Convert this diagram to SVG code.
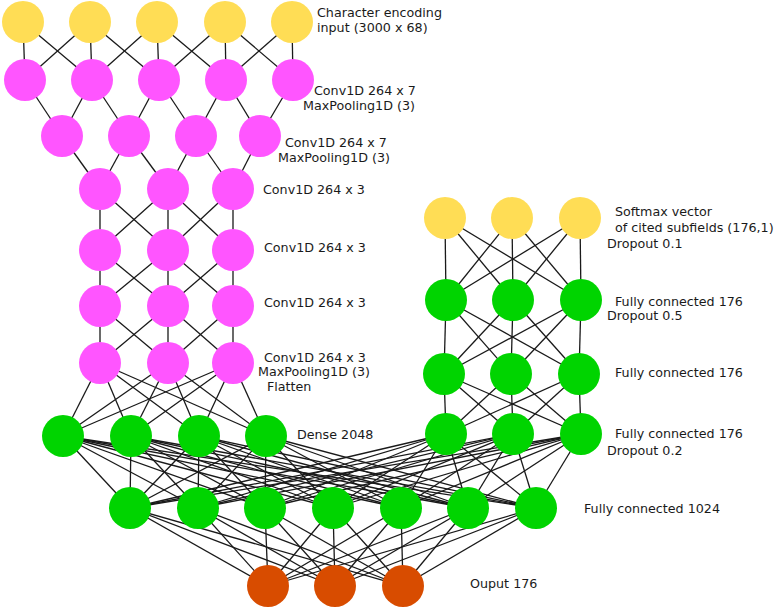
<svg xmlns="http://www.w3.org/2000/svg" width="777" height="609" viewBox="0 0 777 609">
<style>
.c line{stroke:#1a1a1a;stroke-width:1.3}
.y{fill:#ffdd55}
.p{fill:#ff55ff}
.g{fill:#00d400}
.o{fill:#d84c00}
text{font-family:"DejaVu Sans","Verdana",sans-serif;font-size:12.7px;fill:#1a1a1a}
</style>
<rect width="777" height="609" fill="#ffffff"/>
<g id="connectors" class="c">
<line x1="23" y1="22" x2="25" y2="80"/><line x1="23" y1="22" x2="92" y2="80"/>
<line x1="90" y1="22" x2="25" y2="80"/><line x1="90" y1="22" x2="92" y2="80"/><line x1="90" y1="22" x2="159" y2="80"/>
<line x1="157" y1="22" x2="92" y2="80"/><line x1="157" y1="22" x2="159" y2="80"/><line x1="157" y1="22" x2="226" y2="80"/>
<line x1="225" y1="22" x2="159" y2="80"/><line x1="225" y1="22" x2="226" y2="80"/><line x1="225" y1="22" x2="293" y2="80"/>
<line x1="292" y1="22" x2="226" y2="80"/><line x1="292" y1="22" x2="293" y2="80"/>
<line x1="25" y1="80" x2="62" y2="136"/>
<line x1="92" y1="80" x2="62" y2="136"/><line x1="92" y1="80" x2="129" y2="136"/>
<line x1="159" y1="80" x2="129" y2="136"/><line x1="159" y1="80" x2="196" y2="136"/>
<line x1="226" y1="80" x2="196" y2="136"/><line x1="226" y1="80" x2="260" y2="136"/>
<line x1="293" y1="80" x2="260" y2="136"/>
<line x1="62" y1="136" x2="100" y2="189"/>
<line x1="129" y1="136" x2="100" y2="189"/><line x1="129" y1="136" x2="168" y2="189"/>
<line x1="196" y1="136" x2="168" y2="189"/><line x1="196" y1="136" x2="233" y2="189"/>
<line x1="260" y1="136" x2="233" y2="189"/>
<line x1="100" y1="189" x2="100" y2="250"/><line x1="100" y1="189" x2="168" y2="250"/>
<line x1="168" y1="189" x2="100" y2="250"/><line x1="168" y1="189" x2="168" y2="250"/><line x1="168" y1="189" x2="233" y2="250"/>
<line x1="233" y1="189" x2="168" y2="250"/><line x1="233" y1="189" x2="233" y2="250"/>
<line x1="100" y1="250" x2="100" y2="306"/><line x1="100" y1="250" x2="168" y2="306"/>
<line x1="168" y1="250" x2="100" y2="306"/><line x1="168" y1="250" x2="168" y2="306"/><line x1="168" y1="250" x2="233" y2="306"/>
<line x1="233" y1="250" x2="168" y2="306"/><line x1="233" y1="250" x2="233" y2="306"/>
<line x1="100" y1="306" x2="100" y2="363"/><line x1="100" y1="306" x2="168" y2="363"/>
<line x1="168" y1="306" x2="100" y2="363"/><line x1="168" y1="306" x2="168" y2="363"/><line x1="168" y1="306" x2="233" y2="363"/>
<line x1="233" y1="306" x2="168" y2="363"/><line x1="233" y1="306" x2="233" y2="363"/>
<line x1="100" y1="363" x2="63" y2="436"/><line x1="100" y1="363" x2="131" y2="436"/><line x1="100" y1="363" x2="199" y2="436"/><line x1="100" y1="363" x2="266" y2="436"/>
<line x1="168" y1="363" x2="63" y2="436"/><line x1="168" y1="363" x2="131" y2="436"/><line x1="168" y1="363" x2="199" y2="436"/><line x1="168" y1="363" x2="266" y2="436"/>
<line x1="233" y1="363" x2="63" y2="436"/><line x1="233" y1="363" x2="131" y2="436"/><line x1="233" y1="363" x2="199" y2="436"/><line x1="233" y1="363" x2="266" y2="436"/>
<line x1="63" y1="436" x2="130" y2="508"/><line x1="63" y1="436" x2="198" y2="508"/><line x1="63" y1="436" x2="265" y2="508"/><line x1="63" y1="436" x2="333" y2="508"/><line x1="63" y1="436" x2="401" y2="508"/><line x1="63" y1="436" x2="468" y2="508"/><line x1="63" y1="436" x2="536" y2="508"/>
<line x1="131" y1="436" x2="130" y2="508"/><line x1="131" y1="436" x2="198" y2="508"/><line x1="131" y1="436" x2="265" y2="508"/><line x1="131" y1="436" x2="333" y2="508"/><line x1="131" y1="436" x2="401" y2="508"/><line x1="131" y1="436" x2="468" y2="508"/><line x1="131" y1="436" x2="536" y2="508"/>
<line x1="199" y1="436" x2="130" y2="508"/><line x1="199" y1="436" x2="198" y2="508"/><line x1="199" y1="436" x2="265" y2="508"/><line x1="199" y1="436" x2="333" y2="508"/><line x1="199" y1="436" x2="401" y2="508"/><line x1="199" y1="436" x2="468" y2="508"/><line x1="199" y1="436" x2="536" y2="508"/>
<line x1="266" y1="436" x2="130" y2="508"/><line x1="266" y1="436" x2="198" y2="508"/><line x1="266" y1="436" x2="265" y2="508"/><line x1="266" y1="436" x2="333" y2="508"/><line x1="266" y1="436" x2="401" y2="508"/><line x1="266" y1="436" x2="468" y2="508"/><line x1="266" y1="436" x2="536" y2="508"/>
<line x1="446" y1="434" x2="130" y2="508"/><line x1="446" y1="434" x2="198" y2="508"/><line x1="446" y1="434" x2="265" y2="508"/><line x1="446" y1="434" x2="333" y2="508"/><line x1="446" y1="434" x2="401" y2="508"/><line x1="446" y1="434" x2="468" y2="508"/><line x1="446" y1="434" x2="536" y2="508"/>
<line x1="513" y1="434" x2="130" y2="508"/><line x1="513" y1="434" x2="198" y2="508"/><line x1="513" y1="434" x2="265" y2="508"/><line x1="513" y1="434" x2="333" y2="508"/><line x1="513" y1="434" x2="401" y2="508"/><line x1="513" y1="434" x2="468" y2="508"/><line x1="513" y1="434" x2="536" y2="508"/>
<line x1="581" y1="434" x2="130" y2="508"/><line x1="581" y1="434" x2="198" y2="508"/><line x1="581" y1="434" x2="265" y2="508"/><line x1="581" y1="434" x2="333" y2="508"/><line x1="581" y1="434" x2="401" y2="508"/><line x1="581" y1="434" x2="468" y2="508"/><line x1="581" y1="434" x2="536" y2="508"/>
<line x1="130" y1="508" x2="268" y2="586"/><line x1="130" y1="508" x2="335" y2="586"/><line x1="130" y1="508" x2="403" y2="586"/>
<line x1="198" y1="508" x2="268" y2="586"/><line x1="198" y1="508" x2="335" y2="586"/><line x1="198" y1="508" x2="403" y2="586"/>
<line x1="265" y1="508" x2="268" y2="586"/><line x1="265" y1="508" x2="335" y2="586"/><line x1="265" y1="508" x2="403" y2="586"/>
<line x1="333" y1="508" x2="268" y2="586"/><line x1="333" y1="508" x2="335" y2="586"/><line x1="333" y1="508" x2="403" y2="586"/>
<line x1="401" y1="508" x2="268" y2="586"/><line x1="401" y1="508" x2="335" y2="586"/><line x1="401" y1="508" x2="403" y2="586"/>
<line x1="468" y1="508" x2="268" y2="586"/><line x1="468" y1="508" x2="335" y2="586"/><line x1="468" y1="508" x2="403" y2="586"/>
<line x1="536" y1="508" x2="268" y2="586"/><line x1="536" y1="508" x2="335" y2="586"/><line x1="536" y1="508" x2="403" y2="586"/>
<line x1="445" y1="218" x2="446" y2="300"/><line x1="445" y1="218" x2="513" y2="300"/><line x1="445" y1="218" x2="581" y2="300"/>
<line x1="512" y1="218" x2="446" y2="300"/><line x1="512" y1="218" x2="513" y2="300"/><line x1="512" y1="218" x2="581" y2="300"/>
<line x1="580" y1="218" x2="446" y2="300"/><line x1="580" y1="218" x2="513" y2="300"/><line x1="580" y1="218" x2="581" y2="300"/>
<line x1="446" y1="300" x2="444" y2="374"/><line x1="446" y1="300" x2="511" y2="374"/><line x1="446" y1="300" x2="579" y2="374"/>
<line x1="513" y1="300" x2="444" y2="374"/><line x1="513" y1="300" x2="511" y2="374"/><line x1="513" y1="300" x2="579" y2="374"/>
<line x1="581" y1="300" x2="444" y2="374"/><line x1="581" y1="300" x2="511" y2="374"/><line x1="581" y1="300" x2="579" y2="374"/>
<line x1="444" y1="374" x2="446" y2="434"/><line x1="444" y1="374" x2="513" y2="434"/><line x1="444" y1="374" x2="581" y2="434"/>
<line x1="511" y1="374" x2="446" y2="434"/><line x1="511" y1="374" x2="513" y2="434"/><line x1="511" y1="374" x2="581" y2="434"/>
<line x1="579" y1="374" x2="446" y2="434"/><line x1="579" y1="374" x2="513" y2="434"/><line x1="579" y1="374" x2="581" y2="434"/>
</g>
<g id="input-layer">
<circle class="y" cx="23" cy="22" r="21"/><circle class="y" cx="90" cy="22" r="21"/><circle class="y" cx="157" cy="22" r="21"/><circle class="y" cx="225" cy="22" r="21"/><circle class="y" cx="292" cy="22" r="21"/>
<text x="317" y="17">Character encoding</text><text x="317" y="32">input (3000 x 68)</text>
</g>
<g id="conv1">
<circle class="p" cx="25" cy="80" r="21"/><circle class="p" cx="92" cy="80" r="21"/><circle class="p" cx="159" cy="80" r="21"/><circle class="p" cx="226" cy="80" r="21"/><circle class="p" cx="293" cy="80" r="21"/>
<text x="314" y="95">Conv1D 264 x 7</text><text x="303" y="110">MaxPooling1D (3)</text>
</g>
<g id="conv2">
<circle class="p" cx="62" cy="136" r="21"/><circle class="p" cx="129" cy="136" r="21"/><circle class="p" cx="196" cy="136" r="21"/><circle class="p" cx="260" cy="136" r="21"/>
<text x="285" y="147">Conv1D 264 x 7</text><text x="278" y="162">MaxPooling1D (3)</text>
</g>
<g id="conv3">
<circle class="p" cx="100" cy="189" r="21"/><circle class="p" cx="168" cy="189" r="21"/><circle class="p" cx="233" cy="189" r="21"/>
<text x="263" y="194">Conv1D 264 x 3</text>
</g>
<g id="conv4">
<circle class="p" cx="100" cy="250" r="21"/><circle class="p" cx="168" cy="250" r="21"/><circle class="p" cx="233" cy="250" r="21"/>
<text x="264" y="252">Conv1D 264 x 3</text>
</g>
<g id="conv5">
<circle class="p" cx="100" cy="306" r="21"/><circle class="p" cx="168" cy="306" r="21"/><circle class="p" cx="233" cy="306" r="21"/>
<text x="264" y="307">Conv1D 264 x 3</text>
</g>
<g id="conv6">
<circle class="p" cx="100" cy="363" r="21"/><circle class="p" cx="168" cy="363" r="21"/><circle class="p" cx="233" cy="363" r="21"/>
<text x="264" y="362">Conv1D 264 x 3</text><text x="258" y="376">MaxPooling1D (3)</text><text x="267" y="391">Flatten</text>
</g>
<g id="dense">
<circle class="g" cx="63" cy="436" r="21"/><circle class="g" cx="131" cy="436" r="21"/><circle class="g" cx="199" cy="436" r="21"/><circle class="g" cx="266" cy="436" r="21"/>
<text x="297" y="439">Dense 2048</text>
</g>
<g id="softmax">
<circle class="y" cx="445" cy="218" r="21"/><circle class="y" cx="512" cy="218" r="21"/><circle class="y" cx="580" cy="218" r="21"/>
<text x="615" y="216">Softmax vector</text><text x="615" y="232">of cited subfields (176,1)</text><text x="607" y="248">Dropout 0.1</text>
</g>
<g id="fc176-1">
<circle class="g" cx="446" cy="300" r="21"/><circle class="g" cx="513" cy="300" r="21"/><circle class="g" cx="581" cy="300" r="21"/>
<text x="615" y="306">Fully connected 176</text><text x="607" y="320">Dropout 0.5</text>
</g>
<g id="fc176-2">
<circle class="g" cx="444" cy="374" r="21"/><circle class="g" cx="511" cy="374" r="21"/><circle class="g" cx="579" cy="374" r="21"/>
<text x="615" y="377">Fully connected 176</text>
</g>
<g id="fc176-3">
<circle class="g" cx="446" cy="434" r="21"/><circle class="g" cx="513" cy="434" r="21"/><circle class="g" cx="581" cy="434" r="21"/>
<text x="615" y="438">Fully connected 176</text><text x="607" y="455">Dropout 0.2</text>
</g>
<g id="fc1024">
<circle class="g" cx="130" cy="508" r="21"/><circle class="g" cx="198" cy="508" r="21"/><circle class="g" cx="265" cy="508" r="21"/><circle class="g" cx="333" cy="508" r="21"/><circle class="g" cx="401" cy="508" r="21"/><circle class="g" cx="468" cy="508" r="21"/><circle class="g" cx="536" cy="508" r="21"/>
<text x="584" y="513">Fully connected 1024</text>
</g>
<g id="output">
<circle class="o" cx="268" cy="586" r="21"/><circle class="o" cx="335" cy="586" r="21"/><circle class="o" cx="403" cy="586" r="21"/>
<text x="470" y="588">Ouput 176</text>
</g>
</svg>
